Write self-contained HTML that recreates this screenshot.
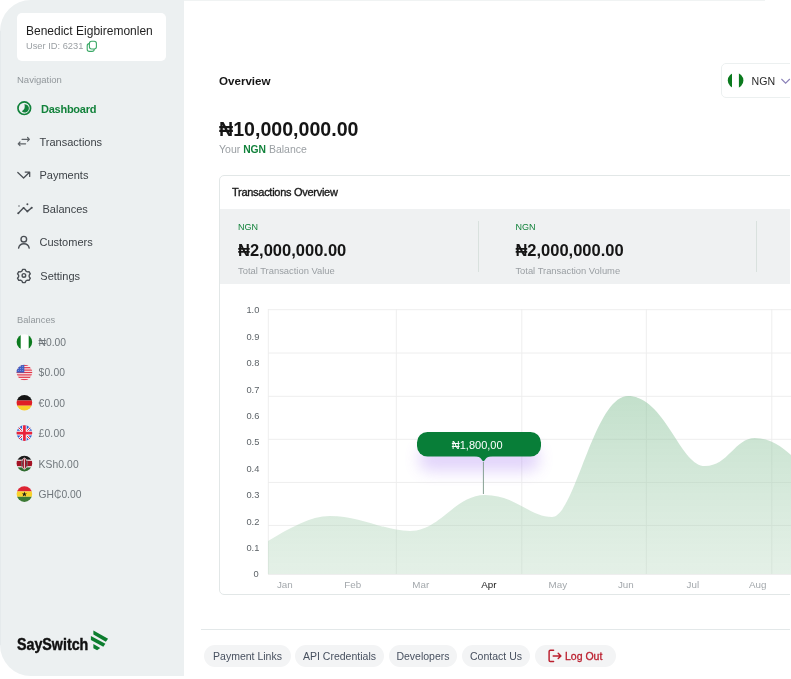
<!DOCTYPE html>
<html><head><meta charset="utf-8">
<style>
*{box-sizing:border-box;margin:0;padding:0}
html,body{width:791px;height:679px;overflow:hidden;background:#fff}
body{font-family:"Liberation Sans",sans-serif;position:relative;color:#1a1a1a}
.abs{position:absolute;white-space:nowrap}
#side{position:absolute;left:0;top:0;width:184px;height:676px;background:#ecf0f1;border-radius:31px 0 0 31px}
#card{position:absolute;left:17px;top:13px;width:149px;height:48px;background:#fff;border-radius:5px}
.nav{position:absolute;left:39.5px;font-size:11px;color:#3d4247;line-height:14px;white-space:nowrap}
.bal{position:absolute;left:38.5px;font-size:10.3px;color:#6f767b;line-height:14px;white-space:nowrap}
.flag{position:absolute;left:17px;width:15px;height:15px;border-radius:50%;overflow:hidden}
.pill{position:absolute;top:645px;height:22px;border-radius:11px;background:#f3f4f5;font-size:10.5px;line-height:22.4px;color:#47505f;text-align:center;white-space:nowrap}
#wrap{position:absolute;left:0;top:0;width:791px;height:679px;will-change:transform;transform:translateZ(0)}
</style></head><body><div id="wrap">
<div id="side">
  <div class="abs" style="left:0;top:31px;width:1px;height:614px;background:#e5eaec"></div>
  <div id="card"></div>
  <div class="abs" style="left:26px;top:22.8px;font-size:12px;line-height:16px;color:#1f1f1f">Benedict Eigbiremonlen</div>
  <div class="abs" style="left:26px;top:39.8px;font-size:9.3px;line-height:12px;color:#9a9fa3">User ID: 6231</div>
  <div class="abs" style="left:17px;top:74px;font-size:9.5px;line-height:12px;color:#92989c">Navigation</div>
  <div class="nav" style="top:101.7px;left:41px;color:#12823b;font-weight:bold;letter-spacing:-0.25px">Dashboard</div>
  <div class="nav" style="top:134.7px">Transactions</div>
  <div class="nav" style="top:168px">Payments</div>
  <div class="nav" style="top:201.7px;left:42.5px">Balances</div>
  <div class="nav" style="top:235px">Customers</div>
  <div class="nav" style="top:268.5px;left:40.3px">Settings</div>
  <div class="abs" style="left:17px;top:313.6px;font-size:9.3px;line-height:12px;color:#92989c">Balances</div>
  <div class="bal" style="top:336px">₦0.00</div>
  <div class="bal" style="top:366.3px;letter-spacing:0.2px">$0.00</div>
  <div class="bal" style="top:397px;letter-spacing:0.2px">€0.00</div>
  <div class="bal" style="top:427px;letter-spacing:0.2px">£0.00</div>
  <div class="bal" style="top:457.5px;letter-spacing:0.1px">KSh0.00</div>
  <div class="bal" style="top:487.8px">GH₵0.00</div>
  <div class="abs" style="left:17px;top:635px;font-size:16.2px;line-height:18px;font-weight:bold;color:#111;-webkit-text-stroke:0.45px #111;transform:scaleX(0.88);transform-origin:0 0">SaySwitch</div>

  <svg class="abs" style="left:0;top:0" width="185" height="676" viewBox="0 0 185 676">
    <!-- copy icon -->
    <g fill="none" stroke="#3aa866" stroke-width="1.1">
      <rect x="87.2" y="43.6" width="7" height="7.8" rx="2.2"/>
      <rect x="89.4" y="41.2" width="7" height="7.8" rx="2.2" fill="#fff"/>
    </g>
    <!-- dashboard -->
    <circle cx="24.27" cy="108.2" r="6.3" fill="none" stroke="#12823b" stroke-width="1.7"/>
    <path d="M24.37 104.3A4.1 4.1 0 1 1 21.87 111.2Q26 108.65 24.37 104.3Z" fill="#12823b"/>
    <g fill="none" stroke="#4a4f55" stroke-width="1.4" stroke-linecap="round" stroke-linejoin="round">
      <!-- transactions -->
      <path d="M22 139.3H29.4M27.6 137.5L29.4 139.3L27.6 141.1" stroke-width="1.2" stroke="#5d6267"/>
      <path d="M25.6 143.8H18.2M20 142L18.2 143.8L20 145.6" stroke-width="1.2" stroke="#5d6267"/>
      <!-- payments -->
      <path d="M17.8 172.5L23.6 178L29.5 172.2M25.2 172H29.7V176.4" stroke-width="1.25"/>
      <!-- balances -->
      <path d="M18.3 213.3L23.6 207.8L27.4 211.4L31.7 207.8" stroke-width="1.4"/>
      <!-- customers -->
      <circle cx="23.8" cy="239.2" r="2.8"/>
      <path d="M18.6 248.1A5.42 5.42 0 0 1 29.2 248.1"/>
      <!-- settings -->
      <circle cx="23.9" cy="275.4" r="1.8"/>
      <path d="M22.6 269.4h2.6l.6 1.6l1.5.9l1.7-.3l1.3 2.2l-1.1 1.3v1.8l1.1 1.3l-1.3 2.2l-1.7-.3l-1.5.9l-.6 1.6h-2.6l-.6-1.6l-1.5-.9l-1.7.3l-1.3-2.2l1.1-1.3v-1.8l-1.1-1.3l1.3-2.2l1.7.3l1.5-.9z"/>
    </g>
    <g fill="#4a4f55"><circle cx="19" cy="206" r="0.7"/><circle cx="27.4" cy="204.2" r="1"/><circle cx="31.7" cy="207.8" r="1"/><circle cx="18.3" cy="213.3" r="1"/><circle cx="23.6" cy="207.8" r="0.9"/><circle cx="27.4" cy="211.4" r="0.9"/></g>
    <!-- logo -->
    <g fill="#0c7d2e">
      <path d="M93.4 630.5L108.1 638.8L105.8 641.7L93.4 634.5Z"/>
      <path d="M90.9 635.9L105.4 643.7L103.3 646.8L90.9 640Z"/>
      <path d="M93.4 644.1L100.2 647.9L97.1 650.3L93.4 648.3Z"/>
    </g>
    <!-- flags -->
    <defs><clipPath id="c1"><circle cx="24.4" cy="342" r="7.8"/></clipPath>
    <clipPath id="c2"><circle cx="24.4" cy="372.5" r="7.8"/></clipPath>
    <clipPath id="c3"><circle cx="24.4" cy="402.8" r="7.8"/></clipPath>
    <clipPath id="c4"><circle cx="24.4" cy="433.1" r="7.8"/></clipPath>
    <clipPath id="c5"><circle cx="24.4" cy="463.6" r="7.8"/></clipPath>
    <clipPath id="c6"><circle cx="24.4" cy="494.1" r="7.8"/></clipPath></defs>
    <g clip-path="url(#c1)"><rect x="16" y="334" width="17" height="16" fill="#fff"/><rect x="16" y="334" width="4.7" height="16" fill="#0b7a1e"/><rect x="28.7" y="334" width="6" height="16" fill="#0b7a1e"/></g>
    <g clip-path="url(#c2)"><rect x="16" y="364" width="17" height="17" fill="#f7e9ea"/>
      <g fill="#e0364a"><rect x="16" y="364.7" width="17" height="1.2"/><rect x="16" y="367.1" width="17" height="1.2"/><rect x="16" y="369.5" width="17" height="1.2"/><rect x="16" y="371.9" width="17" height="1.2"/><rect x="16" y="374.3" width="17" height="1.2"/><rect x="16" y="376.7" width="17" height="1.2"/><rect x="16" y="379.1" width="17" height="1.2"/></g>
      <rect x="16" y="364" width="8.3" height="8.6" fill="#3f5fc4"/><g fill="#fff" opacity="0.75"><circle cx="18.4" cy="366.2" r="0.45"/><circle cx="20.6" cy="366.2" r="0.45"/><circle cx="22.8" cy="366.2" r="0.45"/><circle cx="18.4" cy="368.4" r="0.45"/><circle cx="20.6" cy="368.4" r="0.45"/><circle cx="22.8" cy="368.4" r="0.45"/><circle cx="18.4" cy="370.6" r="0.45"/><circle cx="20.6" cy="370.6" r="0.45"/><circle cx="22.8" cy="370.6" r="0.45"/></g></g>
    <g clip-path="url(#c3)"><rect x="16" y="394" width="17" height="6.5" fill="#141414"/><rect x="16" y="400.5" width="17" height="5.2" fill="#e01f26"/><rect x="16" y="405.7" width="17" height="6" fill="#f8cf2a"/></g>
    <g clip-path="url(#c4)"><rect x="16" y="425" width="17" height="17" fill="#2d5fcf"/>
      <path d="M16 425L33 442M33 425L16 442" stroke="#f4f4f6" stroke-width="2.6"/>
      <path d="M16 425L33 442M33 425L16 442" stroke="#e8223a" stroke-width="1"/>
      <path d="M24.4 425V442M16 433.1H33" stroke="#f4f4f6" stroke-width="4.6"/>
      <path d="M24.4 425V442M16 433.1H33" stroke="#e8223a" stroke-width="2.7"/></g>
    <g clip-path="url(#c5)"><rect x="16" y="455" width="17" height="4.8" fill="#1a1a1a"/><rect x="16" y="459.8" width="17" height="1" fill="#f0f0f0"/><rect x="16" y="460.8" width="17" height="5.6" fill="#a31224"/><rect x="16" y="466.4" width="17" height="1" fill="#f0f0f0"/><rect x="16" y="467.4" width="17" height="5" fill="#2f6b2f"/>
      <ellipse cx="24.4" cy="463.6" rx="2.6" ry="5.6" fill="#a31224" stroke="#f0f0f0" stroke-width="0.8"/><path d="M24.4 458.5V468.7" stroke="#f0f0f0" stroke-width="0.9"/><path d="M22 460.5V466.7M26.8 460.5V466.7" stroke="#1a1a1a" stroke-width="0.8"/></g>
    <g clip-path="url(#c6)"><rect x="16" y="486" width="17" height="5.4" fill="#dd2433"/><rect x="16" y="491.4" width="17" height="5.4" fill="#f9d12a"/><rect x="16" y="496.8" width="17" height="6" fill="#3c7a35"/>
      <path d="M24.4 491.6l.7 1.8h1.9l-1.5 1.2l.6 1.9l-1.7-1.2l-1.7 1.2l.6-1.9l-1.5-1.2h1.9z" fill="#1a1a1a"/></g>
  </svg>
</div>

<div class="abs" style="left:184px;top:0;width:581px;height:1px;background:#f0f3f3"></div>
<div class="abs" style="left:219px;top:73px;font-size:11.6px;line-height:16px;font-weight:bold;color:#151515">Overview</div>
<div class="abs" style="left:721px;top:63px;width:90px;height:34.5px;border:1px solid #ecf0f0;border-radius:5px;background:#fff"></div>
<div class="abs" style="left:751.6px;top:74.3px;font-size:10.6px;line-height:14px;color:#2a2a2a">NGN</div>
<div class="abs" style="left:219px;top:117px;font-size:19.6px;line-height:24px;font-weight:bold;color:#151515">₦10,000,000.00</div>
<div class="abs" style="left:219px;top:143px;font-size:10.5px;line-height:13px;color:#9a9fa3">Your <span style="color:#12823b;font-weight:bold;font-size:10.3px">NGN</span> Balance</div>

<div class="abs" style="left:219px;top:175px;width:600px;height:420px;border:1px solid #e2e7e7;border-radius:5px;background:#fff"></div>
<div class="abs" style="left:232px;top:185px;font-size:11px;line-height:14px;letter-spacing:-0.28px;-webkit-text-stroke:0.35px #1a1a1a;color:#1a1a1a">Transactions Overview</div>
<div class="abs" style="left:220px;top:209px;width:580px;height:75px;background:#eff1f2"></div>
<div class="abs" style="left:238px;top:221px;font-size:9px;line-height:12px;color:#12823b">NGN</div>
<div class="abs" style="left:238px;top:240.2px;font-size:16.5px;line-height:20px;font-weight:bold;color:#151515">₦2,000,000.00</div>
<div class="abs" style="left:238px;top:265px;font-size:9.4px;line-height:12px;color:#9a9fa3">Total Transaction Value</div>
<div class="abs" style="left:478px;top:221px;width:1px;height:51px;background:#d9e1de"></div>
<div class="abs" style="left:515.4px;top:221px;font-size:9px;line-height:12px;color:#12823b">NGN</div>
<div class="abs" style="left:515.4px;top:240.2px;font-size:16.5px;line-height:20px;font-weight:bold;color:#151515">₦2,000,000.00</div>
<div class="abs" style="left:515.4px;top:265px;font-size:9.4px;line-height:12px;color:#9a9fa3">Total Transaction Volume</div>
<div class="abs" style="left:756px;top:221px;width:1px;height:51px;background:#d9e1de"></div>

<svg class="abs" style="left:0;top:0;z-index:5;pointer-events:none" width="791" height="679" viewBox="0 0 791 679">
  <defs>
    <linearGradient id="g" x1="0" y1="0" x2="0" y2="1">
      <stop offset="0" stop-color="#7fbd91" stop-opacity="0.47"/>
      <stop offset="1" stop-color="#b4d6bc" stop-opacity="0.36"/>
    </linearGradient>
  </defs>
  <g stroke="#eeeeee" stroke-width="1" fill="none">
    <path d="M268.3 309V574M396.3 309V574M521.8 309V574M646.3 309V574M771.8 309V574"/>
    <path d="M268 309.7H791M268 353H791M268 396.3H791M268 439.3H791M268 482.4H791M268 525.4H791M268 574.5H791"/>
  </g>
  <path fill="url(#g)" d="M268 541 C290 528 310 516 330 516 C360 516 385 531 410 531 C440 531 455 495 485 495 C515 495 530 517 552 517 C575 517 594 396 628 396 C665 396 680 466 705 466 C728 466 735 438 755 438 C770 438 782 447 791 455 V574 H268 Z"/>

  <g font-family="Liberation Sans, sans-serif" font-size="9.3" fill="#5d6368"><text x="246.4" y="313.4">1.0</text><text x="246.4" y="339.8">0.9</text><text x="246.4" y="366.2">0.8</text><text x="246.4" y="392.6">0.7</text><text x="246.4" y="419.0">0.6</text><text x="246.4" y="445.4">0.5</text><text x="246.4" y="471.8">0.4</text><text x="246.4" y="498.2">0.3</text><text x="246.4" y="524.6">0.2</text><text x="246.4" y="551.0">0.1</text><text x="253.6" y="577.4">0</text></g>
  <g font-family="Liberation Sans, sans-serif" font-size="9.8" fill="#a3a8ac" transform="translate(0.8,0)"><text x="284" y="588" text-anchor="middle">Jan</text><text x="352" y="588" text-anchor="middle">Feb</text><text x="420" y="588" text-anchor="middle">Mar</text><text x="488" y="588" text-anchor="middle" fill="#222">Apr</text><text x="557" y="588" text-anchor="middle">May</text><text x="625" y="588" text-anchor="middle">Jun</text><text x="692" y="588" text-anchor="middle">Jul</text><text x="757" y="588" text-anchor="middle">Aug</text></g>
  <defs><filter id="sh" x="-30%" y="-60%" width="160%" height="300%"><feGaussianBlur stdDeviation="7.5"/></filter></defs>
  <rect x="419" y="446" width="120" height="25" rx="10" fill="#9b6df0" opacity="0.29" filter="url(#sh)"/>
  <path d="M483.4 462V494" stroke="#86a093" stroke-width="1"/>
  <rect x="417" y="432" width="124" height="24.5" rx="10.5" fill="#087e38"/>
  <path d="M474.5 456Q479.6 456 481.6 459.6Q483.4 462.8 485.2 459.6Q487.2 456 492.5 456Z" fill="#087e38"/>
  <text x="477.2" y="449" text-anchor="middle" font-family="Liberation Sans, sans-serif" font-size="11" fill="#fff">₦1,800,00</text>
  <defs><clipPath id="c7"><circle cx="735.6" cy="80.6" r="7.8"/></clipPath></defs>
  <g clip-path="url(#c7)"><rect x="727" y="72" width="17" height="17" fill="#fff"/><rect x="727" y="72" width="5" height="17" fill="#0b7a1e"/><rect x="738.9" y="72" width="6" height="17" fill="#0b7a1e"/></g>
  <path d="M781.4 79L785.6 83.2L789.8 79" fill="none" stroke="#8a80b8" stroke-width="1.1"/>
  <g fill="none" stroke="#bb1f2e" stroke-width="1.45" stroke-linecap="round" stroke-linejoin="round">
    <path d="M553.6 650.3H550.4Q549.1 650.3 549.1 651.6V660.2Q549.1 661.5 550.4 661.5H553.6"/>
    <path d="M553.2 655.9H560.8M558.2 653.2L560.9 655.9L558.2 658.6"/>
  </g>
</svg>
<div class="abs" style="left:201px;top:629px;width:590px;height:1px;background:#e3e8e9"></div>
<div class="pill" style="left:204px;width:87px">Payment Links</div>
<div class="pill" style="left:295px;width:89px">API Credentials</div>
<div class="pill" style="left:389px;width:68px">Developers</div>
<div class="pill" style="left:462px;width:68px">Contact Us</div>
<div class="pill" style="left:535px;width:81px;color:#bb1f2e;-webkit-text-stroke:0.3px #bb1f2e;text-align:left;padding-left:30px">Log Out</div>
<div class="abs" style="left:790px;top:0;width:1px;height:679px;background:#fff"></div>
</div></body>
</html>
